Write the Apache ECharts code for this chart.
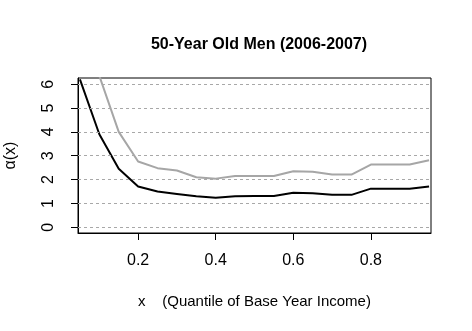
<!DOCTYPE html>
<html><head><meta charset="utf-8">
<script src="https://cdn.jsdelivr.net/npm/echarts@6/dist/echarts.min.js"></script>
<style>html,body{margin:0;padding:0;background:#fff}#c{width:472px;height:331px}</style>
</head><body><div id="c"></div>
<script>
const xValues = [0.05,0.10,0.15,0.20,0.25,0.30,0.35,0.40,0.45,0.50,0.55,0.60,0.65,0.70,0.75,0.80,0.85,0.90,0.95];
const blackSeries = [6.2,3.9,2.45,1.71,1.50,1.40,1.30,1.24,1.30,1.31,1.31,1.45,1.43,1.36,1.36,1.62,1.62,1.62,1.71];
const graySeries = [9.0,6.35,4.0,2.76,2.48,2.38,2.10,2.04,2.15,2.15,2.15,2.35,2.33,2.21,2.21,2.63,2.63,2.63,2.81];
const xTicks = [0.2,0.4,0.6,0.8];
const yTicks = [0,1,2,3,4,5,6];
const titleText = '50-Year Old Men (2006-2007)';
const xName = 'x    (Quantile of Base Year Income)';
const yName = 'α(x)';

const font = 'Liberation Sans, Arial, sans-serif';
const chart = echarts.init(document.getElementById('c'), null, {renderer:'canvas'});
const pair = (vals) => xValues.map((x,i)=>[x, vals[i]]);
chart.setOption({
  animation:false,
  title:{text:titleText,left:254,top:32,textAlign:'center',
    textStyle:{fontFamily:font,fontSize:16,fontWeight:'bold',color:'#000'}},
  grid:{left:78,right:41,top:78,bottom:98,outerBoundsMode:'none',containLabel:false,
    show:true,borderColor:'#000',borderWidth:1,backgroundColor:'transparent'},
  xAxis:{type:'value',min:0.045,max:0.955,
    name:xName,nameLocation:'middle',nameGap:61,
    nameTextStyle:{fontFamily:font,fontSize:15,color:'#000'},
    axisLine:{show:true,onZero:false,lineStyle:{color:'#000'}},
    axisTick:{show:true,length:7,inside:false,customValues:xTicks,lineStyle:{color:'#000'}},
    axisLabel:{customValues:xTicks,margin:20,fontFamily:font,fontSize:16,color:'#000',formatter:v=>v.toFixed(1)},
    splitLine:{show:false}},
  yAxis:{type:'value',min:-0.24,max:6.26,
    name:yName,nameLocation:'middle',nameGap:59,nameRotate:90,
    nameTextStyle:{fontFamily:font,fontSize:16,color:'#000'},
    axisLine:{show:true,onZero:false,lineStyle:{color:'#000'}},
    axisTick:{show:true,length:7,inside:false,customValues:yTicks,lineStyle:{color:'#000'}},
    axisLabel:{customValues:yTicks,rotate:90,margin:21,fontFamily:font,fontSize:16,color:'#000'},
    splitLine:{show:false}},
  series:[
    {type:'line',data:pair(graySeries),symbol:'none',clip:true,
     lineStyle:{color:'#a6a6a6',width:2},z:3,
     markLine:{silent:true,symbol:'none',label:{show:false},
       lineStyle:{color:'#a8a8a8',type:[3,3],width:1},
       data:yTicks.map(v=>({yAxis:v}))}},
    {type:'line',data:pair(blackSeries),symbol:'none',clip:true,
     lineStyle:{color:'#000',width:2},z:4}
  ]
});
</script></body></html>
